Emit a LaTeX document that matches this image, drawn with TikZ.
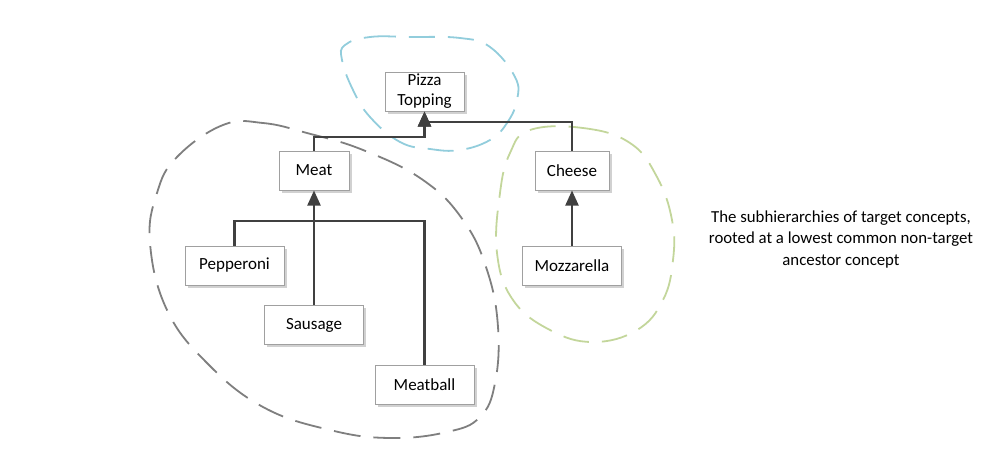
\documentclass[tikz,border=0pt]{standalone}
\usepackage{fontspec}
\setmainfont{Carlito}
\usetikzlibrary{arrows.meta,shadows}
\definecolor{conncol}{HTML}{404040}
\definecolor{boxcol}{HTML}{A0A0A0}
\definecolor{blobgray}{HTML}{7F7F7F}
\definecolor{blobblue}{HTML}{92CDDC}
\definecolor{blobgreen}{HTML}{C3D69B}
\tikzset{
  concept/.style={draw=boxcol, line width=1pt, fill=white, minimum height=39pt,
    inner sep=0pt, align=center, font=\fontsize{17}{20}\selectfont,
    drop shadow={shadow xshift=2.5pt, shadow yshift=-2.5pt, fill=black, opacity=0.18}},
  conn/.style={draw=conncol, line width=2.2pt},
  arr/.style={conn, -{Triangle[length=15pt,width=13pt]}},
}
\begin{document}
\begin{tikzpicture}[x=1pt,y=-1pt]
\useasboundingbox (0,0) rectangle (1000,472);
% blobs
\draw[blobblue, line width=1.8pt, dash pattern=on 26pt off 13pt] plot[smooth cycle, tension=0.7] coordinates {
 (345,45) (370,37) (410,37) (460,38) (490,47) (515,77) (517,100) (507,123) (490,140) (460,150) (430,149) (400,142) (370,117) (353,90) (342,60)};
\draw[blobgray, line width=1.8pt, dash pattern=on 27pt off 13pt] plot[smooth cycle, tension=0.7] coordinates {
 (223,125) (263,123) (307,133) (363,150) (423,180) (463,220) (487,270) (498,327) (495,383) (480,417) (447,432) (390,438) (330,430) (263,407) (207,363) (167,310) (150,243) (157,193) (177,157)};
\draw[blobgreen, line width=1.8pt, dash pattern=on 26pt off 13pt] plot[smooth cycle, tension=0.7] coordinates {
 (530,130) (583,128) (630,143) (657,177) (672,220) (673,260) (663,300) (637,330) (593,342) (550,330) (513,300) (497,253) (500,193) (510,153)};
% nodes
\node[concept, minimum width=79pt] (pizza) at (424.5,91.5) {Pizza\\Topping};
\node[concept, minimum width=70pt] (meat) at (314,170.5) {Meat};
\node[concept, minimum width=74pt] (cheese) at (572,170.5) {Cheese};
\node[concept, minimum width=99pt] (pep) at (234.5,265.5) {Pepperoni};
\node[concept, minimum width=99pt] (sau) at (314,325) {Sausage};
\node[concept, minimum width=99pt] (mb) at (424.5,385) {Meatball};
\node[concept, minimum width=99pt] (moz) at (572,265.5) {Mozzarella};
% connectors
\coordinate (jm) at (314,137);
\coordinate (jc) at (572,122);
\draw[arr] (meat.north) -- (jm) -| (pizza.south);
\draw[arr] (cheese.north) -- (jc) -| (pizza.south);
\coordinate (jl) at (234.5,221);
\coordinate (jr) at (424.5,221);
\draw[conn] (pep.north) -- (jl) -- (jr) -- (mb.north);
\draw[arr] (sau.north) -- (meat.south);
\draw[arr] (moz.north) -- (cheese.south);
% caption
\node[align=center, font=\fontsize{16.8}{21.5}\selectfont] (cap) at (841,239.5) {The subhierarchies of target concepts,\\rooted at a lowest common non-target\\ancestor concept};
\end{tikzpicture}
\end{document}
